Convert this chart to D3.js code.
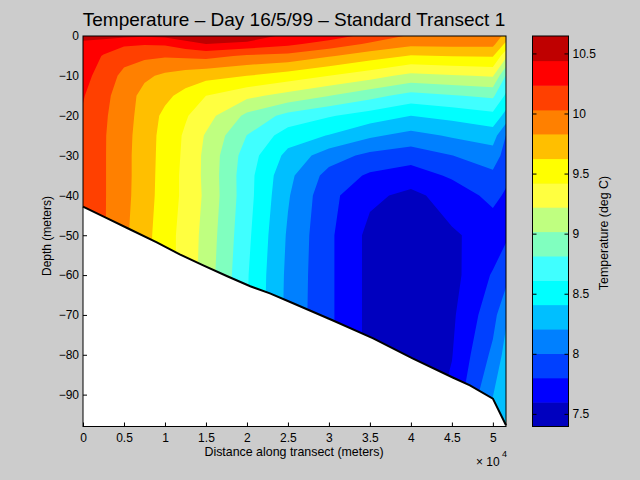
<!DOCTYPE html>
<html><head><meta charset="utf-8">
<script src="https://cdnjs.cloudflare.com/ajax/libs/d3/7.8.5/d3.min.js"></script>
<style>
html,body{margin:0;padding:0;background:#ccc;overflow:hidden}
svg{display:block}
text{font-family:"Liberation Sans",Arial,sans-serif;fill:#000}
</style></head><body><svg id="c" width="640" height="480"></svg>
<script>
const titleText = "Temperature – Day 16/5/99 – Standard Transect 1";
const xLabelText = "Distance along transect (meters)";
const yLabelText = "Depth (meters)";
const barLabelText = "Temperature (deg C)";
const distances = [0,.25,.5,.75,1,1.25,1.5,2,2.5,3,3.5,4,4.5,5,5.16];
const depths = [0,-2,-5,-10,-15,-20,-25,-30,-35,-40,-50,-60,-70,-80,-90,-98];
const temperature = [
[10.5,10.5,10.48,10.46,10.48,10.58,10.62,10.6,10.37,10.33,10.17,10.0,9.93,9.93,9.78],
[10.4,10.35,10.27,10.25,10.26,10.35,10.44,10.38,10.28,10.15,10.0,9.88,9.89,9.89,9.575],
[10.36,10.22,10.1,10.07,10.05,10.07,10.09,10.0,9.97,9.85,9.72,9.61,9.63,9.64,9.27],
[10.31,10.14,9.98,9.87,9.79,9.73,9.69,9.625,9.53,9.42,9.3,9.16,9.2,9.24,8.8],
[10.25,10.08,9.94,9.76,9.67,9.56,9.42,9.27,9.15,9.02,8.88,8.74,8.8,8.85,8.575],
[10.21,10.06,9.92,9.74,9.58,9.44,9.3,8.97,8.75,8.63,8.52,8.41,8.47,8.55,8.34],
[10.19,10.05,9.9,9.73,9.55,9.39,9.2,8.81,8.51,8.4,8.24,8.14,8.23,8.3,8.0],
[10.17,10.05,9.89,9.73,9.54,9.38,9.17,8.72,8.35,8.1,7.95,7.89,8.0,8.11,7.925],
[10.15,10.05,9.89,9.73,9.53,9.37,9.17,8.69,8.26,7.93,7.77,7.7,7.83,7.96,7.85],
[10.13,10.05,9.89,9.72,9.53,9.37,9.18,8.69,8.225,7.86,7.64,7.55,7.68,7.86,7.77],
[10.1,10.05,9.87,9.7,9.5,9.35,9.15,8.66,8.18,7.84,7.54,7.48,7.575,7.67,7.77],
[10.1,10.05,9.87,9.7,9.5,9.35,9.13,8.63,8.16,7.84,7.54,7.45,7.53,7.82,7.93],
[10.1,10.05,9.87,9.7,9.5,9.35,9.13,8.62,8.15,7.84,7.54,7.44,7.563,7.93,8.17],
[10.1,10.05,9.87,9.7,9.5,9.35,9.13,8.62,8.15,7.84,7.54,7.44,7.59,8.05,8.28],
[10.1,10.05,9.87,9.7,9.5,9.35,9.13,8.62,8.15,7.84,7.54,7.44,7.64,8.2,8.36],
[10.1,10.05,9.87,9.7,9.5,9.35,9.13,8.62,8.15,7.84,7.54,7.44,7.68,8.3,8.43]
];
const seabedX = [0,.29,.57,.9,1.18,1.46,1.76,2.04,2.28,2.52,3.05,3.54,4.02,4.51,4.72,5,5.16];
const seabedY = [-42.8,-45.7,-48.5,-51.8,-54.8,-57.5,-60.3,-62.8,-64.6,-66.7,-71.4,-75.9,-80.9,-85.7,-87.7,-91,-97.7];
const levels = [7.395,7.598,7.8,8.003,8.206,8.409,8.611,8.814,9.017,9.22,9.42,9.625,9.83,10.03,10.235,10.44,10.645];
const bandColors = ["#0000bf","#0000ff","#0040ff","#0080ff","#00bfff","#00ffff","#40ffff","#80ffbf","#bfff80","#ffff40","#ffff00","#ffbf00","#ff8000","#ff4000","#ff0000","#bf0000"];
const xTicks = [0,.5,1,1.5,2,2.5,3,3.5,4,4.5,5];
const xTickLabels = ["0","0.5","1","1.5","2","2.5","3","3.5","4","4.5","5"];
const yTicks = [0,-10,-20,-30,-40,-50,-60,-70,-80,-90];
const barTicks = [7.5,8,8.5,9,9.5,10,10.5];
const barTickLabels = ["7.5","8","8.5","9","9.5","10","10.5"];

const svg = d3.select("#c");
const L=83,R=506,T=36,B=426.5, BL=532.5,BR=568.5;
const x = d3.scaleLinear().domain([0,5.16]).range([L,R]);
const y = d3.scaleLinear().domain([0,-98]).range([T,B]);
const barY = d3.scaleLinear().domain([levels[0],levels[levels.length-1]]).range([B,T]);

svg.append("rect").attr("x",L).attr("y",T).attr("width",R-L).attr("height",B-T).attr("fill","#fff");
const fs = 12;
const gx = svg.append("g").attr("transform",`translate(0,${B})`)
  .call(d3.axisBottom(x).tickValues(xTicks).tickSize(-4).tickPadding(7).tickFormat((d,i)=>xTickLabels[i]));
const gy = svg.append("g").attr("transform",`translate(${L},0)`)
  .call(d3.axisLeft(y).tickValues(yTicks).tickSize(-4).tickPadding(4).tickFormat(d=>d===0?"0":"−"+Math.abs(d)));
[gx,gy].forEach(g=>{g.select(".domain").remove();g.selectAll("line").attr("stroke","#000");
  g.selectAll("text").style("font-family",'"Liberation Sans"').style("font-size",fs+"px").attr("fill","#000");
  g.attr("font-family",null);});

const nx=distances.length, ny=depths.length;
const gridX = d3.scaleLinear().domain(distances.map((d,i)=>i+.5)).range(distances.map(d=>x(d))).clamp(true);
const gridY = d3.scaleLinear().domain(depths.map((d,i)=>i+.5)).range(depths.map(d=>y(d))).clamp(true);
const path = d3.geoPath(d3.geoTransform({point(a,b){this.stream.point(gridX(a),gridY(b));}}));
const contours = d3.contours().size([nx,ny]).smooth(true).thresholds(levels.slice(0,-1))(temperature.flat());
const seabed = seabedX.map((d,i)=>[d,seabedY[i]]);
const wet = d3.area().x(d=>x(d[0])).y0(T).y1(d=>y(d[1]));
svg.append("clipPath").attr("id","wet").append("path").attr("d",wet(seabed));
svg.append("g").attr("clip-path","url(#wet)").selectAll("path").data(contours).join("path")
  .attr("d",path).attr("fill",(d,i)=>bandColors[i]);
svg.append("path").attr("d",d3.line().x(d=>x(d[0])).y(d=>y(d[1]))(seabed))
  .attr("fill","none").attr("stroke","#000").attr("stroke-width",2);
svg.append("rect").attr("x",L).attr("y",T).attr("width",R-L).attr("height",B-T)
  .attr("fill","none").attr("stroke","#000").attr("stroke-width",1);

svg.append("g").selectAll("rect").data(bandColors).join("rect")
  .attr("x",BL).attr("width",BR-BL)
  .attr("y",(d,i)=>barY(levels[i+1])).attr("height",(d,i)=>barY(levels[i])-barY(levels[i+1])+.5)
  .attr("fill",d=>d);
svg.append("rect").attr("x",BL).attr("y",T).attr("width",BR-BL).attr("height",B-T)
  .attr("fill","none").attr("stroke","#000");
const gb = svg.append("g").attr("transform",`translate(${BR},0)`)
  .call(d3.axisRight(barY).tickValues(barTicks).tickSize(-4).tickPadding(4).tickFormat((d,i)=>barTickLabels[i]));
gb.select(".domain").remove();
gb.selectAll("line").attr("stroke","#000");
gb.selectAll("text").style("font-family",'"Liberation Sans"').style("font-size",fs+"px").attr("fill","#000");
svg.append("g").selectAll("line").data(barTicks).join("line")
  .attr("x1",BL).attr("x2",BL+4).attr("y1",d=>barY(d)+.5).attr("y2",d=>barY(d)+.5).attr("stroke","#000");

svg.append("text").attr("x",294).attr("y",26).attr("text-anchor","middle").style("font-size","19px").text(titleText);
svg.append("text").attr("x",294).attr("y",456).attr("text-anchor","middle").style("font-size","12.4px").text(xLabelText);
svg.append("text").attr("transform","translate(51,236) rotate(-90)").attr("text-anchor","middle").style("font-size","12px").text(yLabelText);
svg.append("text").attr("transform","translate(608,233) rotate(-90)").attr("text-anchor","middle").style("font-size","12.4px").text(barLabelText);
svg.append("text").attr("x",476).attr("y",466).style("font-size","12px").text("× 10");
svg.append("text").attr("x",502).attr("y",457).style("font-size","9px").text("4");
</script></body></html>
